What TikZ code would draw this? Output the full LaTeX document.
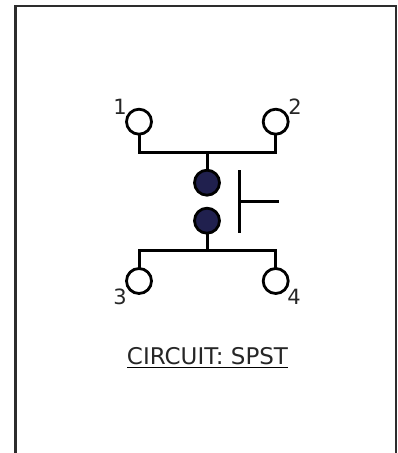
\documentclass[tikz,border=0pt]{standalone}
\usepackage{fontspec}
\setmainfont{DejaVu Sans}
\definecolor{dotblue}{RGB}{32,32,78}
\definecolor{framegray}{RGB}{45,45,45}
\tikzset{
  terminal/.style={circle, draw=black, fill=white, line width=2.8pt, minimum size=25pt, inner sep=0pt, outer sep=0pt},
  contact/.style={circle, draw=black, fill=dotblue, line width=2.8pt, minimum size=25pt, inner sep=0pt, outer sep=0pt},
  wire/.style={line width=3pt, line cap=butt, line join=miter},
  pinlabel/.style={font=\fontsize{21}{22}\selectfont, inner sep=0pt, text=black!85}
}
\begin{document}
\begin{tikzpicture}[x=1pt, y=-1pt]
\useasboundingbox (0,0) rectangle (397,453);
\draw[framegray, line width=2.6pt] (15.5,453) -- (15.5,6) -- (396,6) -- (396,453);
%
\coordinate (topbusl) at (139,152);
\coordinate (topbusm) at (207,152);
\coordinate (topbusr) at (275.7,152);
\coordinate (botbusl) at (139,250.3);
\coordinate (botbusm) at (207,250.3);
\coordinate (botbusr) at (275.7,250.3);
\coordinate (bartop) at (239.7,170);
\coordinate (barbot) at (239.7,233);
\coordinate (barmid) at (239.7,201.7);
\coordinate (barend) at (278.7,201.7);
%
\node[terminal](t1) at (139,121.7) {};
\node[terminal](t2) at (275.7,121.7) {};
\node[terminal](t3) at (139,281) {};
\node[terminal](t4) at (275.7,281) {};
\node[contact](c1) at (207,182.7) {};
\node[contact](c2) at (207,220.7) {};
%
\draw[wire](t1) -- (topbusl) -- (topbusr) -- (t2);
\draw[wire](topbusm) -- (c1);
\draw[wire](t3) -- (botbusl) -- (botbusr) -- (t4);
\draw[wire](botbusm) -- (c2);
\draw[wire](bartop) -- (barbot);
\draw[wire](barmid) -- (barend);
%
\node[pinlabel](n1) at (120,107) {1};
\node[pinlabel](n2) at (295,107) {2};
\node[pinlabel](n3) at (120,296.5) {3};
\node[pinlabel](n4) at (294,296.5) {4};
\node[font=\fontsize{23}{24}\selectfont, inner sep=0pt, text=black!85](title) at (207.5,356) {CIRCUIT: SPST};
\draw[line width=1.2pt] (127,367.3) -- (288,367.3);
\end{tikzpicture}
\end{document}
